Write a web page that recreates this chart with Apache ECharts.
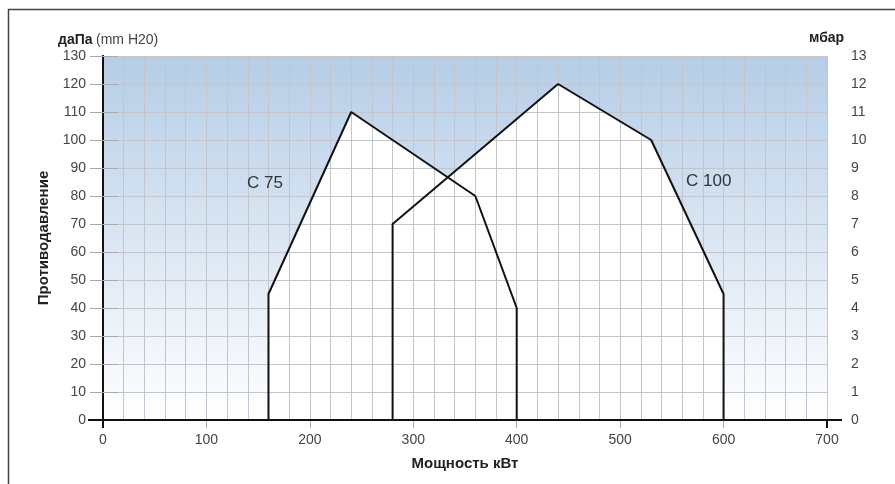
<!DOCTYPE html>
<html>
<head>
<meta charset="utf-8">
<script src="https://cdn.jsdelivr.net/npm/echarts@6/dist/echarts.min.js"></script>
<style>html,body{margin:0;padding:0;background:#fff;}#c{width:895px;height:484px;}</style>
</head>
<body>
<div id="c"></div>
<script>
const c75X = [160, 160, 240, 360, 400, 400];
const c75Y = [0, 45, 110, 80, 40, 0];
const c100X = [280, 280, 440, 530, 600, 600];
const c100Y = [0, 70, 120, 100, 45, 0];
const seriesNames = ['C 75', 'C 100'];
const leftUnitBold = 'даПа';
const leftUnitNormal = '(mm H20)';
const rightUnit = 'мбар';
const xTitle = 'Мощность кВт';
const yTitle = 'Противодавление';
const xMin = 0, xMax = 700, yMin = 0, yMax = 130;

const pairs = (xs, ys) => xs.map((x, i) => [x, ys[i]]);
const font = '"Liberation Sans", Arial, sans-serif';
const chart = echarts.init(document.getElementById('c'));

function areaSeries(data) {
  return { type: 'line', data, showSymbol: false, symbol: 'none', z: 1,
    lineStyle: { width: 0 }, areaStyle: { color: '#ffffff', opacity: 1 }, silent: true };
}
function strokeSeries(name, data) {
  return { name, type: 'line', data, showSymbol: false, symbol: 'none', z: 10,
    lineStyle: { color: '#111', width: 2 }, silent: true };
}

chart.setOption({
  animation: false,
  textStyle: { fontFamily: font },
  grid: { left: 103, right: 68, top: 56, bottom: 64, show: true, borderWidth: 0,
    backgroundColor: new echarts.graphic.LinearGradient(0, 0, 0, 1, [
      { offset: 0, color: '#b5cde7' }, { offset: 1, color: '#ffffff' }]) },
  xAxis: [
    { type: 'value', min: xMin, max: xMax, interval: 100, z: 6,
      name: xTitle, nameLocation: 'middle', nameGap: 36,
      nameTextStyle: { fontWeight: 'bold', fontSize: 15, color: '#222', fontFamily: font },
      axisLine: { lineStyle: { color: '#111', width: 2 } },
      axisTick: { length: 8, lineStyle: { color: '#aaa' } },
      axisLabel: { color: '#444', fontSize: 14, margin: 13, fontFamily: font },
      splitLine: { show: false } },
    { type: 'value', min: xMin, max: xMax, interval: 20, position: 'bottom', z: 5,
      axisLine: { show: false }, axisTick: { show: false }, axisLabel: { show: false },
      splitLine: { show: true, lineStyle: { color: '#c2c6cc', width: 1 } } }
  ],
  yAxis: [
    { type: 'value', min: yMin, max: yMax, interval: 10, z: 6,
      name: yTitle, nameLocation: 'middle', nameGap: 48, nameRotate: 90,
      nameTextStyle: { fontWeight: 'bold', fontSize: 15, color: '#222', fontFamily: font },
      axisLine: { show: true, lineStyle: { color: '#111', width: 2 } },
      axisTick: { show: true, length: 13, lineStyle: { color: '#aaa' } },
      axisLabel: { color: '#444', fontSize: 14, margin: 17, fontFamily: font },
      splitLine: { show: true, lineStyle: { color: '#c2c6cc', width: 1 } } },
    { type: 'value', min: 0, max: 13, interval: 1, position: 'right', z: 6,
      axisLine: { show: true, lineStyle: { color: '#111', width: 2 } },
      axisTick: { show: true, length: 15, lineStyle: { color: '#aaa' } },
      axisLabel: { color: '#444', fontSize: 14, margin: 24, fontFamily: font },
      splitLine: { show: false } }
  ],
  series: [
    areaSeries(pairs(c75X, c75Y)),
    areaSeries(pairs(c100X, c100Y)),
    strokeSeries(seriesNames[0], pairs(c75X, c75Y)),
    strokeSeries(seriesNames[1], pairs(c100X, c100Y))
  ]
});

// pixel corners of the plot, used for frame-like decorations
const p0 = chart.convertToPixel({ xAxisIndex: 0, yAxisIndex: 0 }, [xMin, yMin]);
const p1 = chart.convertToPixel({ xAxisIndex: 0, yAxisIndex: 0 }, [xMax, yMin]);
const blk = { stroke: '#111', lineWidth: 2 };
chart.setOption({
  graphic: [
    { id: 'frame', type: 'rect', shape: { x: 8.5, y: 9.5, width: 900, height: 500 }, z: 20,
      style: { fill: 'none', stroke: '#444', lineWidth: 1.5 }, silent: true },
    { id: 'lu1', type: 'text', x: 58, y: 33, z: 20,
      style: { text: leftUnitBold, fontWeight: 'bold', fontSize: 14, fill: '#222', fontFamily: font } },
    { id: 'lu2', type: 'text', x: 96, y: 33, z: 20,
      style: { text: leftUnitNormal, fontSize: 14, fill: '#444', fontFamily: font } },
    { id: 'ru', type: 'text', x: 809, y: 31, z: 20,
      style: { text: rightUnit, fontWeight: 'bold', fontSize: 14, fill: '#222', fontFamily: font } },
    { id: 's1', type: 'text', x: 247, y: 175, z: 20,
      style: { text: seriesNames[0], fontSize: 17, fill: '#333', fontFamily: font } },
    { id: 's2', type: 'text', x: 686, y: 173, z: 20,
      style: { text: seriesNames[1], fontSize: 17, fill: '#333', fontFamily: font } },
    { id: 'ax', type: 'line', z: 30, silent: true,
      shape: { x1: p0[0] - 15, y1: p0[1], x2: p1[0] + 15, y2: p1[1] }, style: blk },
    { id: 't0', type: 'line', z: 30, silent: true,
      shape: { x1: p0[0], y1: p0[1], x2: p0[0], y2: p0[1] + 8 }, style: blk },
    { id: 't7', type: 'line', z: 30, silent: true,
      shape: { x1: p1[0], y1: p1[1], x2: p1[0], y2: p1[1] + 8 }, style: blk }
  ]
});
</script>
</body>
</html>
